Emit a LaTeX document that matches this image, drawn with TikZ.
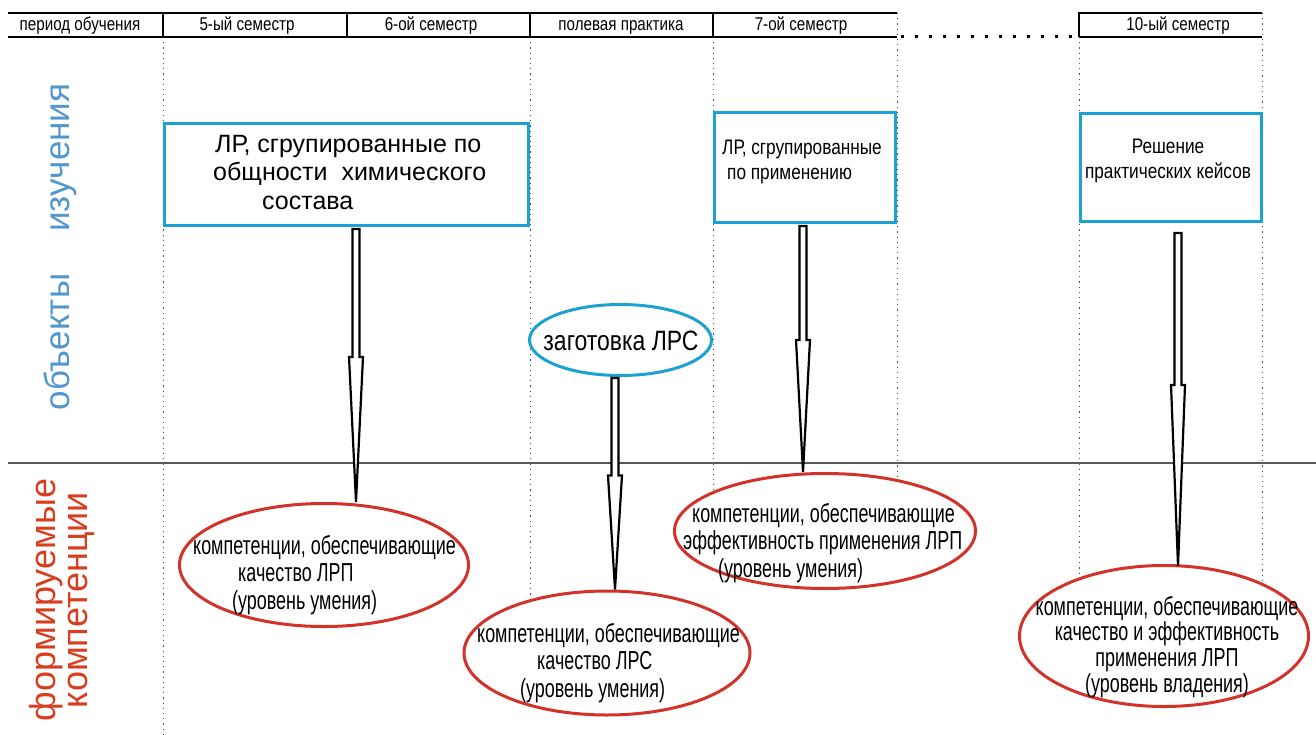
\documentclass[tikz,border=0pt]{standalone}
\usepackage{fontspec}
\setmainfont{Liberation Sans}
\newfontfamily\nar{Liberation Sans}[FakeStretch=0.82]
\newfontfamily\narr{Liberation Sans}[FakeStretch=0.69]
\usetikzlibrary{calc,shapes.geometric}
\definecolor{boxblue}{HTML}{1BA1D2}
\definecolor{lblblue}{HTML}{5296CE}
\definecolor{ellred}{HTML}{D3322A}
\definecolor{lblred}{HTML}{D83D1E}
\newcommand\barrowdraw[3]{%
  \draw[blockarrow] let \p1=(#1), \p2=(#2) in
  (\x1-3.5pt,\y1) -- (\x1+3.5pt,\y1) -- (\x1+3.5pt,\y2+#3pt) -- (\x1+7pt,\y2+#3pt)
  -- (\x1,\y2) -- (\x1-7pt,\y2+#3pt) -- (\x1-3.5pt,\y2+#3pt) -- cycle;}
\begin{document}
\begin{tikzpicture}[x=1pt,y=-1pt,
  hdr/.style={line width=1.3pt, black},
  vline/.style={line width=0.9pt, black!70, dash pattern=on 1.2pt off 4pt},
  bluebox/.style={draw=boxblue, line width=3pt, fill=white, rectangle, inner sep=0pt},
  blueell/.style={draw=boxblue, line width=3pt, fill=white, ellipse, inner sep=0pt},
  redell/.style={draw=ellred, line width=3pt, fill=white, ellipse, inner sep=0pt},
  blockarrow/.style={draw=black, line width=2.2pt, fill=white, line join=miter},
  htext/.style={font={\nar\fontsize{18.5}{20}\selectfont}, anchor=base, inner sep=0pt},
  boxtext/.style={font={\fontsize{25}{28.5}\selectfont}, align=left, inner sep=0pt, anchor=north west},
  smalltext/.style={font={\nar\fontsize{21}{25}\selectfont}, inner sep=0pt},
  elltext/.style={font={\narr\fontsize{26}{27.5}\selectfont}, inner sep=0pt}
]
\useasboundingbox (0,0) rectangle (1316,735);
\fill[white] (0,0) rectangle (1316,735);

% vertical dotted guides
\draw[vline] (163,37) -- (163,735);
\draw[vline] (530,37) -- (530,596);
\draw[vline] (713,37) -- (713,490);
\draw[vline] (897,13) -- (897,478);
\draw[vline] (1079,37) -- (1079,578);
\draw[vline] (1262,13) -- (1262,583);

% header
\draw[hdr] (8,13) -- (897,13);
\draw[hdr] (8,37) -- (897,37);
\foreach \xx in {163,347,530,713} \draw[hdr] (\xx,13) -- (\xx,37);
\draw[hdr] (1079,37) -- (1079,13) -- (1262,13);
\draw[hdr] (1079,37) -- (1262,37);
\draw[line width=3pt, dash pattern=on 3pt off 11pt] (901,37) -- (1076,37);
\node[htext] (h0) at (80,31) {период обучения};
\node[htext] (h1) at (247,31) {5-ый семестр};
\node[htext] (h2) at (431,31) {6-ой семестр};
\node[htext] (h3) at (621,31) {полевая практика};
\node[htext] (h4) at (801,31) {7-ой семестр};
\node[htext] (h5) at (1178,31) {10-ый семестр};

% divider
\draw[line width=1.2pt, black!65] (8,463) -- (1316,463);

% side labels
\node[rotate=90, text=lblblue, font={\fontsize{35}{35}\selectfont}, inner sep=0pt] (lab1) at (60,247) {объекты\hspace{42pt}изучения};
\node[rotate=90, text=lblred, align=center, font={\fontsize{36}{32}\selectfont}, inner sep=0pt] (lab2) at (62,600) {формируемые\\компетенции};

% boxes
\node[bluebox, minimum width=364pt, minimum height=102pt] (b1) at (346.5,174.5) {};
\node[boxtext] (b1t) at (213,135) {\hspace*{2pt}ЛР, сгрупированные по\\общности\ \ химического\\\hspace*{49pt}состава};
\node[bluebox, minimum width=181pt, minimum height=110pt] (b2) at (805,167.5) {};
\node[smalltext, align=left, anchor=north west] (b2t) at (722,140) {ЛР, сгрупированные\\\hspace*{5pt}по применению};
\node[bluebox, minimum width=181pt, minimum height=108pt] (b3) at (1171,167.5) {};
\node[smalltext, align=center] (b3t) at (1168,161) {Решение\\практических кейсов};

% field practice ellipse
\node[blueell, minimum width=182pt, minimum height=71pt] (e0) at (620.5,340) {};
\node[font={\nar\fontsize{28}{30}\selectfont}, inner sep=0pt] (e0t) at (621,341) {заготовка ЛРС};

% arrows
\coordinate (a1s) at ($(b1.south)+(9.5,2)$);
\coordinate (a2s) at ($(e0.south)+(-5.5,1)$);
\coordinate (a3s) at ($(b2.south)+(-2,2)$);
\coordinate (a4s) at ($(b3.south)+(7,10)$);

% competence ellipses
\node[redell, minimum width=289pt, minimum height=123pt] (e1) at (324,565) {};
\node[redell, minimum width=286pt, minimum height=124pt] (e2) at (607,653) {};
\node[redell, minimum width=301pt, minimum height=115pt] (e3) at (825,531) {};
\node[redell, minimum width=289pt, minimum height=141pt] (e4) at (1164,636) {};

\coordinate (a1t) at (a1s |- e1.north);
\coordinate (a2t) at (a2s |- e2.north);
\coordinate (a3t) at (a3s |- e3.north);
\coordinate (a4t) at ($(a4s |- e4.north)+(0,2)$);
\barrowdraw{a1s}{a1t}{145}
\barrowdraw{a2s}{a2t}{114}
\barrowdraw{a3s}{a3t}{132}
\barrowdraw{a4s}{a4t}{181}

\node[elltext, align=left, anchor=north west] (e1t) at (193,535) {компетенции, обеспечивающие\\\hspace*{45pt}качество ЛРП\\\hspace*{39pt}(уровень умения)};
\node[elltext, align=left, anchor=north west] (e2t) at (477,623) {компетенции, обеспечивающие\\\hspace*{60pt}качество ЛРС\\\hspace*{43pt}(уровень умения)};
\node[elltext, align=left, anchor=north west] (e3t) at (683,503) {\hspace*{9pt}компетенции, обеспечивающие\\эффективность применения ЛРП\\\hspace*{35pt}(уровень умения)};
\node[elltext, align=center, font={\narr\fontsize{26}{25.7}\selectfont}] (e4t) at (1167,647) {компетенции, обеспечивающие\\качество и эффективность\\применения ЛРП\\(уровень владения)};
\end{tikzpicture}
\end{document}
